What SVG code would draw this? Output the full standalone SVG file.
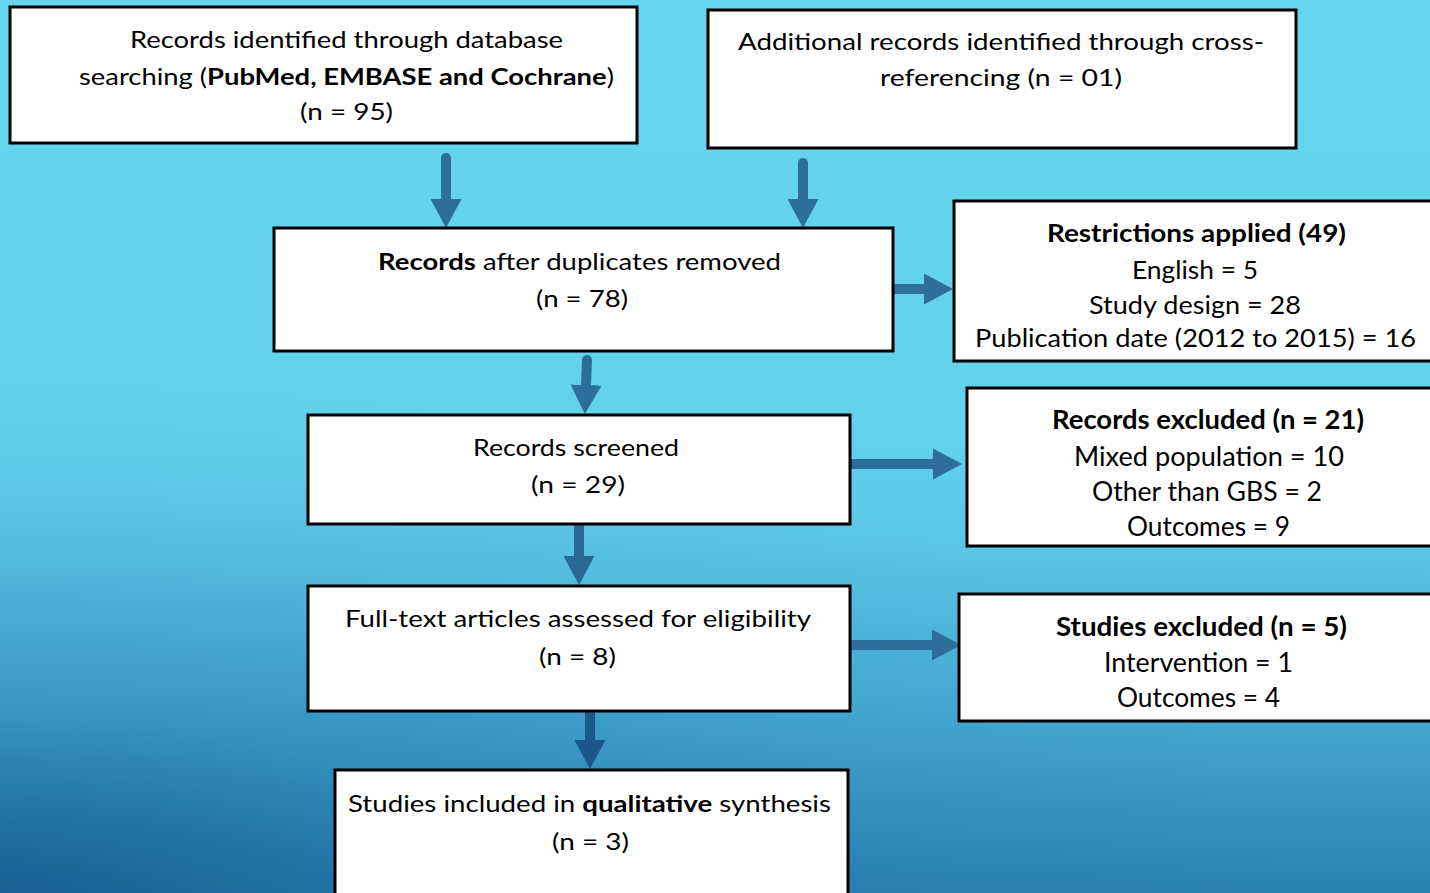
<svg xmlns="http://www.w3.org/2000/svg" width="1430" height="893" viewBox="0 0 1430 893">
<defs>
<linearGradient id="bg" gradientUnits="userSpaceOnUse" x1="0" y1="0" x2="0" y2="893">
<stop offset="0" stop-color="#65d5ef"/>
<stop offset="0.5" stop-color="#62d1ec"/>
<stop offset="0.62" stop-color="#59c4e4"/>
<stop offset="0.78" stop-color="#46acd4"/>
<stop offset="1" stop-color="#2a82b2"/>
</linearGradient>
<radialGradient id="shade" gradientUnits="userSpaceOnUse" cx="0" cy="893" r="1300" gradientTransform="translate(0,893) scale(1,0.4) translate(0,-893)">
<stop offset="0" stop-color="#0b4a85" stop-opacity="0.6"/>
<stop offset="0.35" stop-color="#0b4a85" stop-opacity="0.2"/>
<stop offset="0.7" stop-color="#0b4a85" stop-opacity="0.05"/>
<stop offset="1" stop-color="#0b4a85" stop-opacity="0"/>
</radialGradient>
<marker id="headA" markerUnits="userSpaceOnUse" markerWidth="29" markerHeight="31" refX="0" refY="15.5" orient="auto" viewBox="0 0 29 31">
<path d="M0,0 L29,15.5 L0,31 Z" fill="#2d6f9a"/>
</marker>
<marker id="headB" markerUnits="userSpaceOnUse" markerWidth="29" markerHeight="31" refX="0" refY="15.5" orient="auto" viewBox="0 0 29 31">
<path d="M0,0 L29,15.5 L0,31 Z" fill="#286893"/>
</marker>
<marker id="headC" markerUnits="userSpaceOnUse" markerWidth="29" markerHeight="31" refX="0" refY="15.5" orient="auto" viewBox="0 0 29 31">
<path d="M0,0 L29,15.5 L0,31 Z" fill="#1b5788"/>
</marker>
</defs>
<style>
.box{fill:#ffffff;stroke:#000000;stroke-width:3}
.t{font-family:Lato,"Open Sans","Liberation Sans",sans-serif;fill:#000000;text-anchor:middle}
.s{font-size:23px}
.m{font-size:24.5px}
.l{font-size:26px}
.b{font-weight:bold}
.ar{fill:none;stroke-width:10;stroke-linecap:round}
.a1{stroke:#2d6f9a;marker-end:url(#headA)}
.a2{stroke:#286893;marker-end:url(#headB)}
.a3{stroke:#1b5788;marker-end:url(#headC)}
</style>
<rect x="0" y="0" width="1430" height="893" fill="url(#bg)"/>
<rect x="0" y="0" width="1430" height="893" fill="url(#shade)"/>

<g id="connectors">
<line class="ar a1" x1="446" y1="158" x2="446" y2="199"/>
<line class="ar a1" x1="803" y1="163" x2="803" y2="199"/>
<line class="ar a1" x1="895" y1="289" x2="924" y2="289" stroke-linecap="butt"/>
<line class="ar a1" x1="587" y1="360" x2="586" y2="385"/>
<line class="ar a1" x1="852" y1="464" x2="933" y2="464" stroke-linecap="butt"/>
<line class="ar a2" x1="579" y1="526" x2="579" y2="556" stroke-linecap="butt"/>
<line class="ar a1" x1="852" y1="645" x2="932" y2="645" stroke-linecap="butt"/>
<line class="ar a3" x1="590" y1="712" x2="590" y2="740" stroke-linecap="butt"/>
</g>

<g id="n1">
<rect class="box" x="10" y="7" width="627" height="136"/>
<text class="t s" x="346.5" y="48" textLength="433" lengthAdjust="spacingAndGlyphs">Records identified through database</text>
<text class="t s" x="346.5" y="85" textLength="535" lengthAdjust="spacingAndGlyphs">searching (<tspan class="b">PubMed, EMBASE and Cochrane</tspan>)</text>
<text class="t s" x="346.5" y="120" textLength="93" lengthAdjust="spacingAndGlyphs">(n = 95)</text>
</g>

<g id="n2">
<rect class="box" x="708" y="10" width="588" height="138"/>
<text class="t s" x="1001" y="50" textLength="526" lengthAdjust="spacingAndGlyphs">Additional records identified through cross-</text>
<text class="t s" x="1001" y="86" textLength="242" lengthAdjust="spacingAndGlyphs">referencing  (n = 01)</text>
</g>

<g id="n3">
<rect class="box" x="274" y="228" width="619" height="123"/>
<text class="t s" x="579.5" y="270" textLength="403" lengthAdjust="spacingAndGlyphs"><tspan class="b">Records</tspan> after duplicates removed</text>
<text class="t s" x="582" y="307" textLength="92" lengthAdjust="spacingAndGlyphs">(n = 78)</text>
</g>

<g id="n4">
<rect class="box" x="954" y="201" width="490" height="160"/>
<text class="t m b" x="1196.5" y="242" textLength="299" lengthAdjust="spacingAndGlyphs">Restrictions applied (49)</text>
<text class="t m" x="1195" y="279" textLength="126" lengthAdjust="spacingAndGlyphs">English = 5</text>
<text class="t m" x="1195" y="313.5" textLength="212" lengthAdjust="spacingAndGlyphs">Study design  = 28</text>
<text class="t m" x="1195.5" y="347" textLength="441" lengthAdjust="spacingAndGlyphs">Publication date (2012 to 2015) = 16</text>
</g>

<g id="n5">
<rect class="box" x="308" y="415" width="542" height="109"/>
<text class="t s" x="576" y="456" textLength="206" lengthAdjust="spacingAndGlyphs">Records screened</text>
<text class="t s" x="578" y="493" textLength="94" lengthAdjust="spacingAndGlyphs">(n = 29)</text>
</g>

<g id="n6">
<rect class="box" x="967" y="388" width="480" height="158"/>
<text class="t l b" x="1208" y="429" textLength="312" lengthAdjust="spacingAndGlyphs">Records excluded (n = 21)</text>
<text class="t l" x="1209" y="466" textLength="270" lengthAdjust="spacingAndGlyphs">Mixed population = 10</text>
<text class="t l" x="1207" y="501" textLength="230" lengthAdjust="spacingAndGlyphs">Other than GBS = 2</text>
<text class="t l" x="1208.5" y="535.5" textLength="163" lengthAdjust="spacingAndGlyphs">Outcomes = 9</text>
</g>

<g id="n7">
<rect class="box" x="308" y="586" width="542" height="125"/>
<text class="t s" x="578" y="627" textLength="466" lengthAdjust="spacingAndGlyphs">Full-text articles assessed  for eligibility</text>
<text class="t s" x="577.5" y="665" textLength="77" lengthAdjust="spacingAndGlyphs">(n = 8)</text>
</g>

<g id="n8">
<rect class="box" x="959" y="594" width="490" height="127"/>
<text class="t l b" x="1201.5" y="636" textLength="291" lengthAdjust="spacingAndGlyphs">Studies excluded (n = 5)</text>
<text class="t l" x="1198.5" y="672" textLength="189" lengthAdjust="spacingAndGlyphs">Intervention = 1</text>
<text class="t l" x="1198.5" y="707" textLength="163" lengthAdjust="spacingAndGlyphs">Outcomes = 4</text>
</g>

<g id="n9">
<rect class="box" x="335" y="770" width="513" height="140"/>
<text class="t s" x="589.5" y="812" textLength="483" lengthAdjust="spacingAndGlyphs">Studies included in <tspan class="b">qualitative</tspan> synthesis</text>
<text class="t s" x="590.5" y="850" textLength="77" lengthAdjust="spacingAndGlyphs">(n = 3)</text>
</g>
</svg>
